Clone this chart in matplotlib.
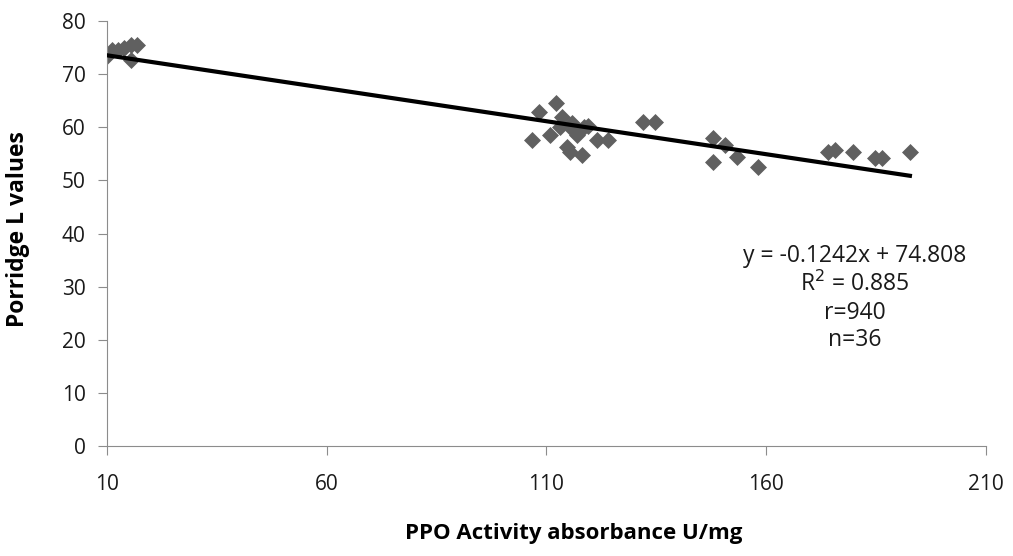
import matplotlib.pyplot as plt
import numpy as np

# PPO activity (U/mg) and porridge L values
ppo = [10.0, 11.1, 12.5, 13.9, 15.5, 15.5, 16.8,
       106.7, 108.3, 112.2, 110.8, 113.5, 115.8, 114.7, 117.0, 118.0,
       119.4, 121.5, 124.0, 115.3, 132.0, 134.7, 113.0, 116.0, 118.5,
       147.9, 150.6, 147.9, 153.3, 158.1, 174.0, 175.6, 179.7, 184.7,
       186.3, 192.7]
l_values = [73.4, 74.6, 74.6, 75.0, 72.7, 75.5, 75.5,
            57.6, 62.9, 64.6, 58.6, 62.0, 60.8, 56.3, 58.6, 54.8,
            60.2, 57.6, 57.6, 55.4, 61.0, 61.0, 60.0, 59.5, 60.0,
            58.0, 56.7, 53.5, 54.4, 52.5, 55.4, 55.7, 55.4, 54.2,
            54.2, 55.4]

slope = -0.1242
intercept = 74.808
stats_text = "y = -0.1242x + 74.808\nR$^2$ = 0.885\nr=940\nn=36"

plt.rcParams['font.family'] = ['Open Sans', 'DejaVu Sans']

fig = plt.figure(figsize=(10.13, 5.56), dpi=100)
ax = fig.add_axes([0.1056, 0.198, 0.8677, 0.764])

ax.scatter(ppo, l_values, marker='D', s=75, color='#606060', zorder=2, linewidths=0)

xs = np.array([min(ppo), max(ppo)])
ax.plot(xs, slope * xs + intercept, color='black', linewidth=3, zorder=3)

ax.set_xlim(10, 210)
ax.set_ylim(0, 80)
ax.set_xticks([10, 60, 110, 160, 210])
ax.set_yticks(range(0, 81, 10))

for s in ['top', 'right']:
    ax.spines[s].set_visible(False)
for s in ['left', 'bottom']:
    ax.spines[s].set_color('#8c8c8c')
ax.tick_params(axis='both', colors='#8c8c8c', labelcolor='#1a1a1a', labelsize=15, length=6.5)
ax.tick_params(axis='y', pad=9)
ax.tick_params(axis='x', pad=14)

ax.set_xlabel('PPO Activity absorbance U/mg', fontsize=16, fontweight='bold', va='center')
ax.set_ylabel('Porridge L values', fontsize=16.5, fontweight='bold', va='center')
ax.xaxis.set_label_coords(0.531, -0.207)
ax.yaxis.set_label_coords(-0.101, 0.51)

ax.text(0.851, 0.348, stats_text, transform=ax.transAxes, ha='center', va='center',
        fontsize=16.5, linespacing=1.2, color='#1a1a1a')

fig.savefig('out.png', dpi=100)
